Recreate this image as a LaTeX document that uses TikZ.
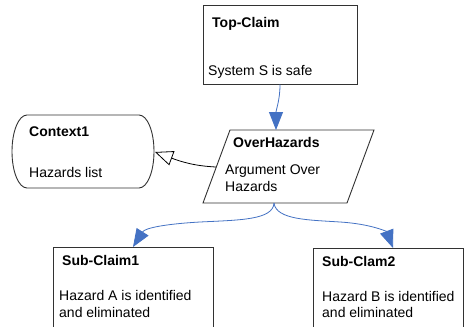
\documentclass[tikz,border=0pt]{standalone}
\usepackage{fontspec}
\setmainfont{Liberation Sans}
\usetikzlibrary{arrows.meta}
\definecolor{linkblue}{RGB}{68,114,196}
\definecolor{edge}{RGB}{50,50,50}
\begin{document}
\begin{tikzpicture}[x=1pt,y=-1pt,
  box/.style={draw=edge,line width=0.9pt,inner sep=0pt,anchor=north west},
  shapeline/.style={draw=edge,line width=0.9pt},
  txt/.style={anchor=base west,inner sep=0pt,font=\fontsize{14}{17}\selectfont},
  ttl/.style={txt,font=\fontsize{14}{17}\selectfont\bfseries},
  bluelink/.style={draw=linkblue,line width=0.8pt,-{Triangle[length=18pt,width=14pt]},fill=none},
  ctxlink/.style={draw=black,line width=0.8pt,-{Triangle[open,length=18pt,width=15pt,fill=white]}}]
\useasboundingbox (0,0) rectangle (464,327);
\clip (0,0) rectangle (464,327);
\fill[white] (0,0) rectangle (464,327);

% Top claim
\node[box,minimum width=154pt,minimum height=79pt] (top) at (203,5) {};
\node[ttl] (topT) at (212,27) {Top-Claim};
\node[txt] (topD) at (208,75) {System S is safe};

% Context (stadium with elliptical ends)
\draw[shapeline] (27,115) -- (139,115)
  .. controls (147.3,115) and (154,131.35) .. (154,151.5)
  .. controls (154,171.65) and (147.3,188) .. (139,188)
  -- (27,188)
  .. controls (18.7,188) and (12,171.65) .. (12,151.5)
  .. controls (12,131.35) and (18.7,115) .. (27,115) -- cycle;
\coordinate (ctxE) at (155,152);
\node[ttl] (ctxT) at (29,136) {Context1};
\node[txt] (ctxD) at (29,177) {Hazards list};

% OverHazards parallelogram
\coordinate (ovhTL) at (230,130);
\coordinate (ovhTR) at (374,130);
\coordinate (ovhBR) at (347,203);
\coordinate (ovhBL) at (203,203);
\draw[shapeline] (ovhTL) -- (ovhTR) -- (ovhBR) -- (ovhBL) -- cycle;
\coordinate (ovhN) at (276,130);
\coordinate (ovhS) at (274,203);
\coordinate (ovhW) at (216,167);
\node[ttl] (ovhT) at (233,147) {OverHazards};
\node[txt] (ovhD1) at (225,174) {Argument Over};
\node[txt] (ovhD2) at (225,191) {Hazards};

% Sub claims
\node[box,minimum width=160pt,minimum height=100pt] (sc1) at (53,247) {};
\node[ttl] (sc1T) at (62,265) {Sub-Claim1};
\node[txt] (sc1D1) at (59,300) {Hazard A is identified};
\node[txt] (sc1D2) at (59,317) {and eliminated};

\node[box,minimum width=150pt,minimum height=100pt] (sc2) at (313,248) {};
\node[ttl] (sc2T) at (322,266) {Sub-Clam2};
\node[txt] (sc2D1) at (322,301) {Hazard B is identified};
\node[txt] (sc2D2) at (322,317) {and eliminated};

\coordinate (sc1N) at (133,247);
\coordinate (sc2N) at (393,248);
\coordinate (topS) at (280,84.5);

% connectors
\draw[bluelink] (topS) .. controls (280,100) and (276,110) .. (ovhN);
\draw[bluelink] (ovhS) .. controls (273,220) and (240,220) .. (200,222)
  .. controls (165,224) and (145,228) .. (sc1N);
\draw[bluelink] (ovhS) .. controls (276,220) and (310,220) .. (340,222)
  .. controls (372,224) and (387,232) .. (sc2N);
\draw[ctxlink] (ovhW) .. controls (195,166) and (182,162) .. (ctxE);
\end{tikzpicture}
\end{document}
